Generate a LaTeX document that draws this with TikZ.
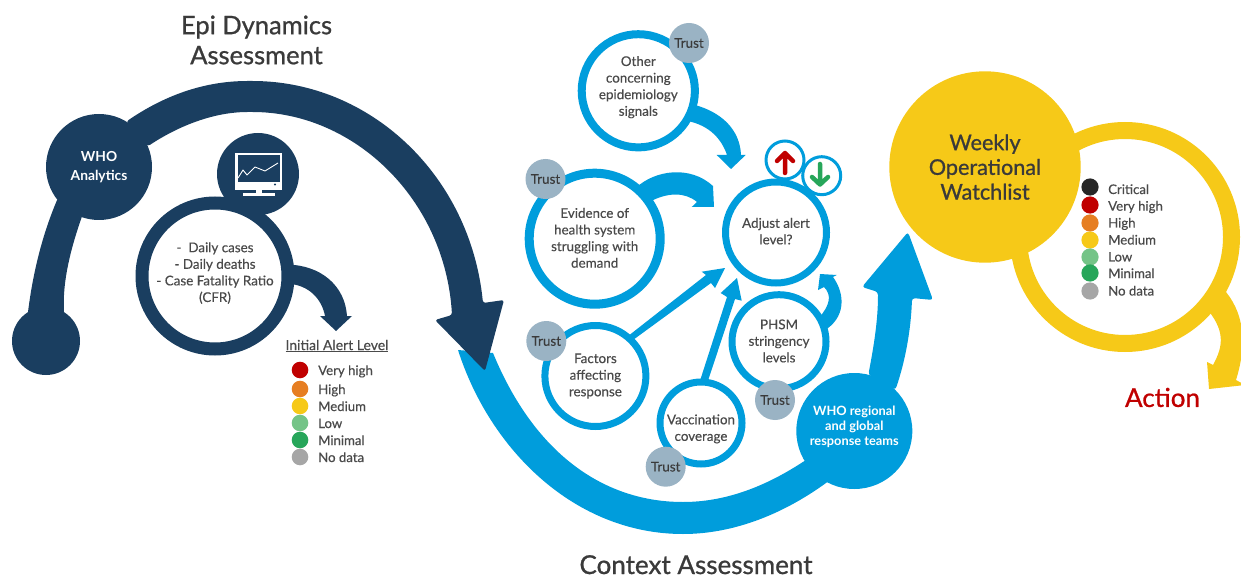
\documentclass[tikz,border=0pt]{standalone}
\usepackage{fontspec}
\setmainfont{Lato}
\newfontfamily\headfont{Lato}[FakeBold=0.9]
\newfontfamily\bodyfont{Lato}[FakeBold=0.35]
\pgfdeclarelayer{bg}
\pgfsetlayers{bg,main}
\definecolor{navy}{HTML}{1A3E60}
\definecolor{cblue}{HTML}{009DDC}
\definecolor{cyellow}{HTML}{F6C918}
\definecolor{trustgrey}{HTML}{9AB3C4}
\definecolor{txt}{HTML}{4A4A4A}
\definecolor{dark}{HTML}{3A3A3A}
\definecolor{lvcrit}{HTML}{262626}
\definecolor{lvred}{HTML}{C00000}
\definecolor{lvorange}{HTML}{E67E22}
\definecolor{lvlow}{HTML}{74C487}
\definecolor{lvmin}{HTML}{27A65A}
\definecolor{lvnone}{HTML}{A6A6A6}
\tikzset{
  disc/.style n args={2}{circle,inner sep=0pt,outer sep=0pt,minimum size=#1*2,fill=#2},
  ring/.style n args={3}{circle,inner sep=0pt,outer sep=0pt,minimum size=2*#1-#2,line width=#2,draw=#3,fill=white,align=center,text=txt,font=\bodyfont\fontsize{13.4}{16.6}\selectfont},
  trust/.style={disc={20}{trustgrey},text=dark,font=\bodyfont\fontsize{13.4}{16}\selectfont},
  title/.style={align=center,text=dark,inner sep=0pt,font=\headfont\fontsize{25.5}{30}\selectfont},
  legtxt/.style={anchor=base west,inner sep=0pt,text=txt,font=\bodyfont\fontsize{13.2}{16}\selectfont},
  navyarrow/.style={fill=navy,rounded corners=2.5pt},
  bigblue/.style={fill=cblue,rounded corners=3pt},
  yellowarrow/.style={fill=cyellow},
}
% name, x, dot y, colour, radius, text, baseline y
\newcommand{\legdot}[7]{%
  \node[disc={#5}{#4}] (#1) at (#2,#3) {};
  \node[legtxt] (#1t) at (#2+18,#7) {#6};
}
% lines of a node text, moved up by #1 without changing the node's size
\newcommand{\lifted}[2]{\raisebox{\dimexpr#1-.25em\relax}[0pt][0pt]{\begin{tabular}{@{}c@{}}#2\end{tabular}}}
\begin{document}
\begin{tikzpicture}[x=1pt,y=-1pt]
\useasboundingbox (0,0) rectangle (1241,577);
% titles
\node[title] (epi) at (256.5,40) {Epi Dynamics\\Assessment};
\node[title,anchor=base,font=\headfont\fontsize{26}{30}\selectfont] (ctx) at (696,574) {Context Assessment};
\node[title,text=lvred,font=\headfont\fontsize{26}{30}\selectfont] (action) at (1162.5,397.5) {Action};
% left group
\node[disc={53}{navy},text=white,align=center,font=\bfseries\fontsize{13.8}{19.5}\selectfont] (analytics) at (99,167) {WHO\\Analytics};
\node[disc={34}{navy}] (startdot) at (46,341) {};
\node[disc={41}{navy}] (monitor) at (258,174) {};
\node[ring={79.5}{13}{navy}] (data) at (215,276) {\lifted{2pt}{-\ \ Daily cases\\- Daily deaths\\- Case Fatality Ratio\\(CFR)}};
% monitor icon
\fill[white] (235,153) rectangle (282,190);
\fill[navy] (237.5,155) rectangle (279.5,182);
\fill[white] (243,193) rectangle (275,196);
\fill[white] (256,190) rectangle (262,193);
\draw[white,line width=.9pt,line join=round] (238,178) -- (243,170) -- (247,175) -- (255,167) -- (265,171) -- (278,163);
\fill[navy] (275,184.5) circle (1.2);
% centre rings
\node[ring={60.6}{8}{cblue}] (other) at (638.3,90.8) {\lifted{3pt}{Other\\concerning\\epidemiology\\signals}};
\node[ring={70}{9}{cblue}] (evid) at (594.7,238.7) {\lifted{-1pt}{Evidence of\\health system\\struggling with\\demand}};
\node[ring={54}{7}{cblue}] (adjust) at (776,232.5) {\lifted{-.5pt}{Adjust alert\\level?}};
\node[ring={54}{7}{cblue}] (factors) at (595.4,376) {Factors\\affecting\\response};
\node[ring={44.5}{7}{cblue}] (vacc) at (701,423) {\lifted{-6.5pt}{Vaccination\\coverage}};
\node[ring={50.5}{7}{cblue}] (phsm) at (779,341.7) {\lifted{-1pt}{PHSM\\stringency\\levels}};
\node[trust] (t1) at (689,43) {Trust};
\node[trust] (t2) at (545.5,179) {Trust};
\node[trust] (t3) at (546.3,341) {Trust};
\node[trust] (t4) at (665.7,466.7) {Trust};
\node[trust] (t5) at (775,400) {Trust};
\node[ring={20.5}{3}{cblue}] (upc) at (785,160) {};
\node[ring={20.5}{3}{cblue}] (downc) at (821.7,175.7) {};
\draw[lvred,line width=4.5pt,line cap=round,line join=round] (785,173) -- (785,153) (777,161) -- (785,153) -- (793,161);
\draw[lvmin,line width=4.5pt,line cap=round,line join=round] (820,164) -- (820,184) (812,177) -- (820,184.5) -- (828,177);
\node[disc={58}{cblue},text=white,align=center,font=\bfseries\fontsize{12.8}{15.2}\selectfont] (teams) at (854.3,431) {\lifted{3.5pt}{WHO regional\\and global\\response teams}};
% right group
\node[ring={115}{17}{cyellow},fill=white] (watchring) at (1125,237) {};
\node[disc={95.7}{cyellow},align=center,text=dark,font=\headfont\fontsize{21.6}{24.7}\selectfont] (watch) at (985,167) {Weekly\\Operational\\Watchlist};
% legends
\node[inner sep=0pt,text=txt,font=\bodyfont\fontsize{14}{16}\selectfont] (initial) at (337,346) {\underline{Initial Alert Level}};
\legdot{a1}{300}{370}{lvred}{8.3}{Very high}{375}
\legdot{a2}{300}{389}{lvorange}{8.3}{High}{394}
\legdot{a3}{300}{406}{cyellow}{8.3}{Medium}{411}
\legdot{a4}{300}{423}{lvlow}{8.3}{Low}{428}
\legdot{a5}{300}{440}{lvmin}{8.3}{Minimal}{445}
\legdot{a6}{300}{457}{lvnone}{8.3}{No data}{462}
\legdot{b1}{1090}{187}{lvcrit}{8.6}{Critical}{194}
\legdot{b2}{1090}{205}{lvred}{8.6}{Very high}{210.7}
\legdot{b3}{1090}{223}{lvorange}{8.6}{High}{227.5}
\legdot{b4}{1090}{240}{cyellow}{8.6}{Medium}{244.5}
\legdot{b5}{1090}{257}{lvlow}{8.6}{Low}{261.5}
\legdot{b6}{1090}{273}{lvmin}{8.6}{Minimal}{278}
\legdot{b7}{1090}{291}{lvnone}{8.6}{No data}{295.5}
% connectors (thick arrows, behind the nodes)
\begin{pgfonlayer}{bg}
% context arc (under the navy head)
\fill[cblue] (458,350) .. controls (490,450) and (575,534) .. (683,534) .. controls (735,534) and (785,513) .. (teams.242.6)
  -- (teams.211) .. controls (765,487) and (725,502) .. (683,502) .. controls (605,502) and (535,455) .. (493,353) -- cycle;
% arc from context to watchlist
\fill[bigblue] (teams.76) .. controls (874,345) and (878,320) .. (878,292) -- (862,287) -- (908,232) -- (933,300) -- (912,298) .. controls (911,330) and (905,362) .. (teams.45) -- cycle;
% epi arc
\fill[navy] (startdot.122) .. controls (32,280) and (40,240) .. (analytics.218) -- (analytics.251) .. controls (72,245) and (62,280) .. (startdot.58) -- cycle;
\fill[navyarrow] (analytics.59) .. controls (165,95) and (205,81) .. (250,81) .. controls (370,81) and (470,175) .. (483,303)
  -- (504,300) -- (485,371) -- (435,320) -- (452,315) .. controls (445,200) and (355,112) .. (250,112) .. controls (215,112) and (180,125) .. (analytics.23) -- cycle;
% data to initial alert level
\fill[navy] (data.9) .. controls (320,265) and (345,285) .. (347,316) -- (352,316) -- (336,331) -- (320,316) -- (325,316) .. controls (322,300) and (310,285) .. (data.-6) -- cycle;
% other -> adjust
\fill[cblue] (other.-14) .. controls (722,112) and (740,130) .. (741,155) -- (745.7,155) -- (731,169) -- (716.7,155) -- (727,155) .. controls (722,140) and (710,125) .. (other.-32) -- cycle;
% evidence -> adjust
\fill[cblue] (evid.51) .. controls (655,170) and (690,165) .. (713,186) -- (714,207) -- (691.7,207) -- (697,202) .. controls (685,192) and (668,192) .. (evid.34) -- cycle;
% factors -> adjust
\fill[cblue] (factors.51) -- (706,275) -- (701.7,271.7) -- (725,268) -- (715,288) -- (711,283) -- (factors.44) -- cycle;
% vaccination -> adjust
\fill[cblue] (vacc.92) -- (727,297) -- (720.7,293) -- (737,278) -- (741.7,300.7) -- (735,299) -- (vacc.81) -- cycle;
% phsm -> adjust
\fill[cblue] (phsm.14) .. controls (845,318) and (846,295) .. (833,277) -- (836.7,275) -- (820,274) -- (818,290) -- (824,287) .. controls (832,295) and (830,305) .. (phsm.31) -- cycle;
% watchlist ring -> action
\begin{scope}
\clip (0,0) rectangle (1241,577);
\fill[yellowarrow] (watchring.-27.5) .. controls (1240,305) and (1250,335) .. (1236,380) -- (1245,385) -- (1209,389) -- (1207,362) -- (1213,365) .. controls (1224,345) and (1225,330) .. (watchring.-41) -- cycle;
\end{scope}
\end{pgfonlayer}
\end{tikzpicture}
\end{document}
